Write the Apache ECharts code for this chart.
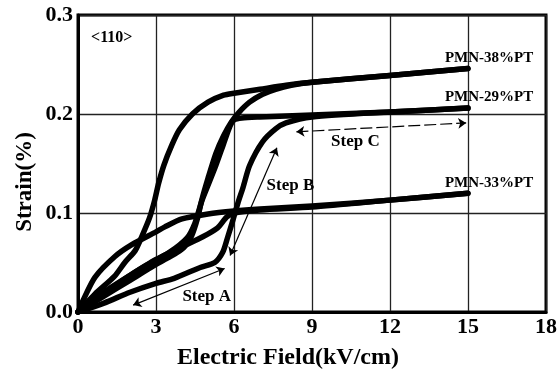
<!DOCTYPE html>
<html>
<head>
<meta charset="utf-8">
<script src="https://cdn.jsdelivr.net/npm/echarts@6/dist/echarts.min.js"></script>
<style>html,body{margin:0;padding:0;background:#fff}#c{width:560px;height:372px}</style>
</head>
<body>
<div id="c"></div>
<script>
// ---- data (x: kV/cm, y: strain %) ----
const xTicks = [0, 3, 6, 9, 12, 15, 18];
const yTicks = [0.0, 0.1, 0.2, 0.3];

const pmn38Up = [[0,0],[1,0.016],[2,0.032],[3,0.048],[3.8,0.06],[4.1,0.066],[4.37,0.077],[4.6,0.095],[4.76,0.113],[5.0,0.135],[5.3,0.16],[5.6,0.178],[5.9,0.192],[6.2,0.202],[6.6,0.212],[7.1,0.220],[7.6,0.225],[8.2,0.229],[9,0.232],[12,0.239],[15,0.246]];
const pmn38Down = [[15,0.246],[12,0.239],[9,0.232],[8,0.229],[7,0.225],[6,0.221],[5.6,0.219],[5,0.212],[4.4,0.2],[3.9,0.184],[3.6,0.168],[3.3,0.148],[3.1,0.13],[2.95,0.113],[2.75,0.095],[2.45,0.076],[2.2,0.062],[1.8,0.05],[1.4,0.036],[0.65,0.018],[0,0]];

const pmn29Up = [[0,0],[1,0.009],[2,0.02],[3,0.029],[3.7,0.034],[4.7,0.045],[5.26,0.05],[5.56,0.06],[5.75,0.075],[5.95,0.092],[6.15,0.11],[6.35,0.126],[6.6,0.148],[7.1,0.172],[7.6,0.185],[8.0,0.191],[9,0.197],[12,0.202],[15,0.206]];
const pmn29Down = [[15,0.206],[12,0.202],[9,0.199],[7,0.197],[6.3,0.196],[6.0,0.194],[5.85,0.188],[5.6,0.17],[5.3,0.148],[5.0,0.128],[4.76,0.112],[4.5,0.09],[4.2,0.075],[3.5,0.06],[2.5,0.045],[1.5,0.028],[0.7,0.013],[0,0]];

const pmn33Up = [[0,0],[1,0.02],[2,0.037],[3,0.053],[4,0.066],[4.8,0.076],[5.37,0.085],[5.72,0.096],[6,0.1],[7,0.103],[9,0.106],[12,0.113],[15,0.12]];
const pmn33Down = [[15,0.12],[12,0.113],[9,0.107],[7,0.104],[6,0.102],[5,0.099],[4,0.094],[3.34,0.086],[3,0.081],[2.07,0.068],[1.42,0.056],[0.65,0.035],[0.2,0.012],[0,0]];

const stepArrows = [
  {name: 'Step A', from: [2.12, 0.007], to: [5.64, 0.044], dashed: false},
  {name: 'Step B', from: [5.85, 0.057], to: [7.65, 0.166], dashed: false},
  {name: 'Step C', from: [8.4, 0.182], to: [14.93, 0.191], dashed: true}
];
const textNotes = [
  {text: 'PMN-38%PT', at: [15.81, 0.2566], size: 15},
  {text: 'PMN-29%PT', at: [15.81, 0.2172], size: 15},
  {text: 'PMN-33%PT', at: [15.81, 0.130], size: 15},
  {text: 'Step A', at: [4.95, 0.0152], size: 17},
  {text: 'Step B', at: [8.17, 0.128], size: 17},
  {text: 'Step C', at: [10.67, 0.172], size: 17},
  {text: '<110>', at: [1.3, 0.277], size: 16}
];

// ---- chart ----
const FONT = '"Liberation Serif", "DejaVu Serif", serif';
const chart = echarts.init(document.getElementById('c'), null, {renderer: 'canvas'});

function curve(name, data) {
  return {
    name: name, type: 'line', data: data, showSymbol: false, smooth: 0.25,
    lineStyle: {color: '#000', width: 5.5, cap: 'round', join: 'round', opacity: 1},
    silent: true, animation: false, z: 3
  };
}

const option = {
  animation: false,
  backgroundColor: '#fff',
  grid: {left: 78, right: 13, top: 15, bottom: 60, show: true, borderColor: '#000', borderWidth: 3},
  xAxis: {
    type: 'value', min: 0, max: 18, interval: 3,
    axisLine: {show: true, lineStyle: {color: '#000', width: 3}},
    axisTick: {show: false},
    axisLabel: {color: '#000', fontFamily: FONT, fontWeight: 'bold', fontSize: 22, margin: 4,
      formatter: v => xTicks.includes(v) ? String(v) : ''},
    splitLine: {show: true, lineStyle: {color: '#222', width: 1.3}}
  },
  yAxis: {
    type: 'value', min: 0, max: 0.3, interval: 0.1,
    axisLine: {show: true, lineStyle: {color: '#000', width: 3}},
    axisTick: {show: false},
    axisLabel: {color: '#000', fontFamily: FONT, fontWeight: 'bold', fontSize: 22, margin: 5,
      formatter: v => v.toFixed(1)},
    splitLine: {show: true, lineStyle: {color: '#222', width: 1.3}}
  },
  graphic: [
    {type: 'text', x: 288, y: 358, style: {text: 'Electric Field(kV/cm)', font: 'bold 24px ' + FONT, fill: '#000', textAlign: 'center', textVerticalAlign: 'middle'}},
    {type: 'text', x: 25, y: 182, rotation: Math.PI / 2, style: {text: 'Strain(%)', font: 'bold 23px ' + FONT, fill: '#000', textAlign: 'center', textVerticalAlign: 'middle'}}
  ],
  series: [
    curve('PMN-38%PT', pmn38Up), curve('PMN-38%PT', pmn38Down),
    curve('PMN-29%PT', pmn29Up), curve('PMN-29%PT', pmn29Down),
    curve('PMN-33%PT', pmn33Up), curve('PMN-33%PT', pmn33Down),
    {
      type: 'lines', coordinateSystem: 'cartesian2d', silent: true, z: 4,
      symbol: ['arrow', 'arrow'], symbolSize: 8,
      lineStyle: {color: '#000', opacity: 1, width: 1.2},
      data: stepArrows.map(a => ({
        coords: [a.from, a.to],
        lineStyle: {color: '#000', opacity: 1, width: 1.2, type: a.dashed ? [12, 4] : 'solid'}
      }))
    },
    {
      type: 'scatter', symbolSize: 0, silent: true, z: 5,
      itemStyle: {opacity: 1},
      data: textNotes.map(t => ({
        value: t.at,
        itemStyle: {opacity: 1},
        label: {show: true, position: 'inside', formatter: t.text, color: '#000', opacity: 1,
          fontFamily: FONT, fontWeight: 'bold', fontSize: t.size}
      }))
    }
  ]
};
chart.setOption(option);
</script>
</body>
</html>
